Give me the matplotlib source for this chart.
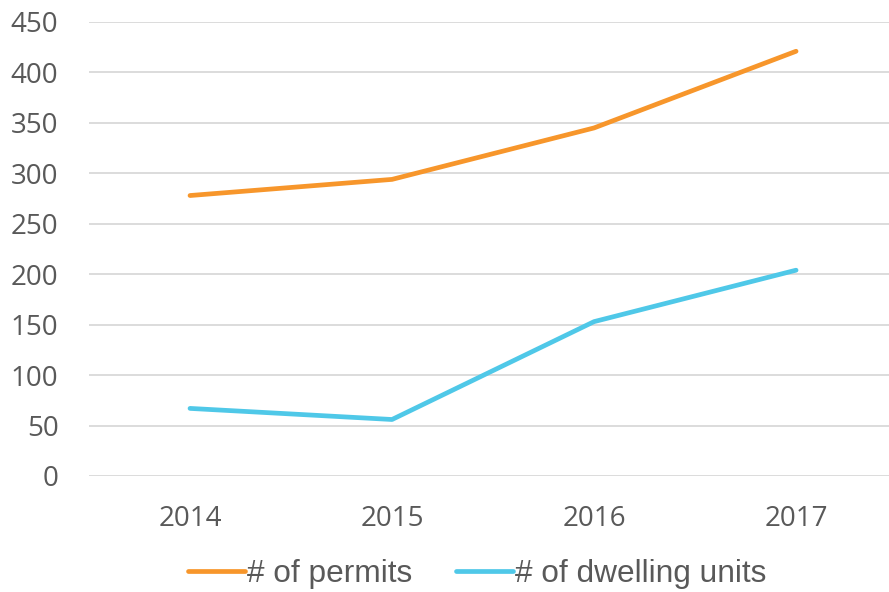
import matplotlib.pyplot as plt

years = ["2014", "2015", "2016", "2017"]
permits = [278, 294, 345, 421]
dwelling_units = [67, 56, 153, 204]

GRAY = "#595959"

fig = plt.figure(figsize=(8.89, 5.92), dpi=100)
ax = fig.add_axes([89 / 889, 116 / 592, 800 / 889, 454 / 592])

x = range(len(years))
ax.plot(x, permits, color="#F7962B", linewidth=3.4, solid_capstyle="round",
        label="# of permits")
ax.plot(x, dwelling_units, color="#4FC8E8", linewidth=3.4, solid_capstyle="round",
        label="# of dwelling units")

ax.set_xlim(-0.5, 3.46)
ax.set_ylim(0, 450)
ax.set_yticks(range(0, 451, 50))
ax.set_xticks(list(x))
ax.set_xticklabels(years)
ax.grid(axis="y", color="#D9D9D9", linewidth=1.3)
ax.set_axisbelow(True)
for s in ax.spines.values():
    s.set_visible(False)
ax.tick_params(length=0, labelsize=20, colors=GRAY)
ax.tick_params(axis="y", pad=22)
ax.tick_params(axis="x", pad=21)
for lab in ax.get_xticklabels() + ax.get_yticklabels():
    lab.set_family("Open Sans")

fig.legend(loc="center", bbox_to_anchor=(0.537, 0.03), ncol=2, frameon=False,
           prop={"family": "Liberation Sans", "size": 22.8}, labelcolor=GRAY,
           handlelength=1.8, handletextpad=0.05, columnspacing=1.4)

fig.savefig("out.png", dpi=100)
